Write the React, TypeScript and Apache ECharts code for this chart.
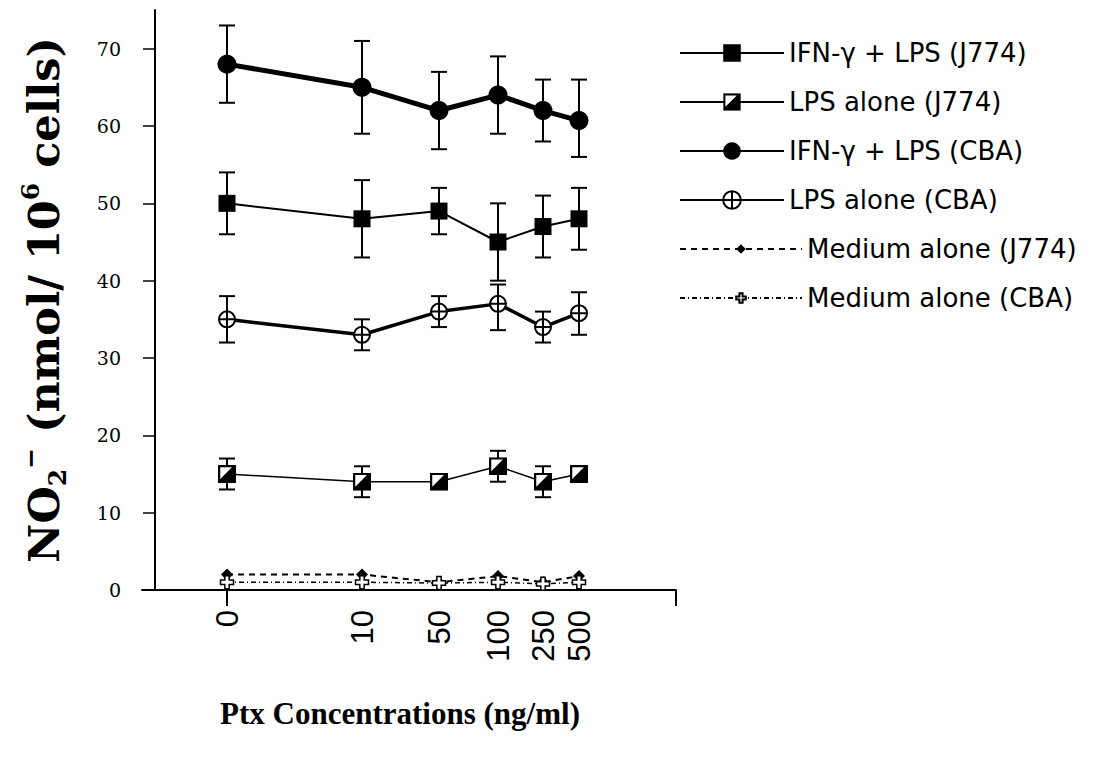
import React, { useEffect, useRef } from "react";
import * as echarts from "echarts";

// ---- data ----
const concentrations = ["0", "10", "50", "100", "250", "500"];
// placement of each concentration along the figure's non-linear x axis (axis units)
const xSlot = [72, 207, 284, 343, 388, 424];
const xMin = -13;
const xMax = 521;

const seriesNames = [
  "IFN-γ + LPS (J774)",
  "LPS alone (J774)",
  "IFN-γ + LPS (CBA)",
  "LPS alone (CBA)",
  "Medium alone (J774)",
  "Medium alone (CBA)",
];

const ifnJ774 = [50, 48, 49, 45, 47, 48];
const ifnJ774Hi = [54, 53, 52, 50, 51, 52];
const ifnJ774Lo = [46, 43, 46, 40, 43, 44];

const lpsJ774 = [15, 14, 14, 16, 14, 15];
const lpsJ774Hi: (number | null)[] = [17, 16, 14.8, 18, 16, null];
const lpsJ774Lo: (number | null)[] = [13, 12, 13.2, 14, 12, null];

const ifnCBA = [68, 65, 62, 64, 62, 60.7];
const ifnCBAHi = [73, 71, 67, 69, 66, 66];
const ifnCBALo = [63, 59, 57, 59, 58, 56];

const lpsCBA = [35, 33, 36, 37, 34, 35.8];
const lpsCBAHi = [38, 35, 38, 39.5, 36, 38.5];
const lpsCBALo = [32, 31, 34, 33.6, 32, 33];

const mediumJ774 = [2, 2, 1, 1.8, 1, 1.8];
const mediumCBA = [1, 1, 0.9, 1, 0.8, 1];

const yTicks = [0, 10, 20, 30, 40, 50, 60, 70];

// ---- symbols ----
const halfSquareSvg =
  "<svg xmlns='http://www.w3.org/2000/svg' width='40' height='40' viewBox='0 0 40 40'>" +
  "<rect width='40' height='40' fill='#000'/><polygon points='5,5 31,5 5,31' fill='#fff'/></svg>";
const halfSquare = "image://data:image/svg+xml;charset=utf-8," + encodeURIComponent(halfSquareSvg);
const circlePlus =
  "path://M0,10 A10,10 0 1 1 20,10 A10,10 0 1 1 0,10 Z M0,10 L20,10 M10,0 L10,20";
const hollowCross =
  "path://M4,0 L8,0 L8,4 L12,4 L12,8 L8,8 L8,12 L4,12 L4,8 L0,8 L0,4 L4,4 Z";

function pairs(vals: number[]) {
  return xSlot.map((x, i) => [x, vals[i]]);
}

function errorSeries(hi: (number | null)[], lo: (number | null)[], width: number) {
  const data = xSlot
    .map((x, i) => [x, lo[i], hi[i]])
    .filter((d) => d[1] != null && d[2] != null);
  return {
    type: "custom",
    silent: true,
    z: 1,
    data,
    encode: { x: 0, y: [1, 2] },
    renderItem: (params: any, api: any) => {
      const x = api.value(0);
      const lowPt = api.coord([x, api.value(1)]);
      const highPt = api.coord([x, api.value(2)]);
      const hw = 8;
      const style = { stroke: "#000", lineWidth: width, fill: "none" };
      return {
        type: "group",
        children: [
          { type: "line", shape: { x1: lowPt[0], y1: lowPt[1], x2: highPt[0], y2: highPt[1] }, style },
          { type: "line", shape: { x1: highPt[0] - hw, y1: highPt[1], x2: highPt[0] + hw, y2: highPt[1] }, style },
          { type: "line", shape: { x1: lowPt[0] - hw, y1: lowPt[1], x2: lowPt[0] + hw, y2: lowPt[1] }, style },
        ],
      };
    },
  };
}

function lineSeries(
  name: string,
  vals: number[],
  symbol: string,
  symbolSize: number | number[],
  lineWidth: number,
  itemStyle: any,
  lineType: any = "solid"
) {
  return {
    type: "line",
    name,
    data: pairs(vals),
    symbol,
    symbolSize,
    symbolKeepAspect: true,
    z: 2,
    lineStyle: { color: "#000", width: lineWidth, type: lineType },
    itemStyle,
    emphasis: { disabled: true },
  };
}

export default function App() {
  const ref = useRef<HTMLDivElement>(null);

  useEffect(() => {
    if (!ref.current) return;
    const chart = echarts.init(ref.current, null, { renderer: "svg" });
    const legendText = { fontFamily: "DejaVu Sans", fontSize: 26, color: "#000", lineHeight: 30 };
    const option: any = {
      animation: false,
      backgroundColor: "#fff",
      grid: { left: 142, right: 426, top: 10, bottom: 172, containLabel: false, outerBoundsMode: "none" },
      xAxis: {
        type: "value",
        min: xMin,
        max: xMax,
        splitLine: { show: false },
        axisLine: { lineStyle: { color: "#000", width: 2 } },
        axisTick: {
          show: true,
          customValues: [xSlot[0], xMax],
          length: 16,
          lineStyle: { color: "#000", width: 2 },
        },
        axisLabel: {
          customValues: xSlot,
          rotate: 90,
          margin: 20,
          padding: [14, 0, 0, 0],
          fontFamily: "Liberation Sans",
          fontSize: 31,
          color: "#000",
          formatter: (v: number) => {
            const i = xSlot.indexOf(v);
            return i >= 0 ? concentrations[i] : "";
          },
        },
        name: "Ptx Concentrations (ng/ml)",
        nameLocation: "middle",
        nameGap: 108,
        nameTextStyle: {
          fontFamily: "Liberation Serif",
          fontWeight: "bold",
          fontSize: 31,
          color: "#000",
          padding: [0, 18, 0, 0],
        },
      },
      yAxis: {
        type: "value",
        min: 0,
        max: 75,
        interval: 10,
        splitLine: { show: false },
        axisLine: { onZero: true, lineStyle: { color: "#000", width: 2 } },
        axisTick: { customValues: yTicks, length: 12, lineStyle: { color: "#000", width: 1.5 } },
        axisLabel: {
          customValues: yTicks,
          margin: 21,
          fontFamily: "DejaVu Serif",
          fontSize: 19,
          color: "#000",
        },
        name: "{b|NO}{sub|2}{sup|−}{b| (nmol/ 10}{sup|6}{b| cells)}",
        nameLocation: "middle",
        nameRotate: 90,
        nameGap: 72,
        nameTextStyle: {
          rich: {
            b: { fontFamily: "DejaVu Serif", fontWeight: "bold", fontSize: 43, lineHeight: 52, color: "#000" },
            sub: {
              fontFamily: "DejaVu Serif",
              fontWeight: "bold",
              fontSize: 25,
              lineHeight: 24,
              verticalAlign: "bottom",
              color: "#000",
            },
            sup: {
              fontFamily: "DejaVu Serif",
              fontWeight: "bold",
              fontSize: 25,
              lineHeight: 24,
              verticalAlign: "top",
              color: "#000",
            },
          },
        },
      },
      legend: [
        {
          orient: "vertical",
          left: 674,
          top: 33,
          itemWidth: 104,
          itemHeight: 22,
          itemGap: 19,
          selectedMode: false,
          data: seriesNames.slice(0, 4),
          textStyle: legendText,
        },
        {
          orient: "vertical",
          left: 674,
          top: 229,
          itemWidth: 122,
          itemHeight: 12,
          itemGap: 19,
          selectedMode: false,
          data: seriesNames.slice(4),
          textStyle: legendText,
        },
      ],
      series: [
        errorSeries(ifnCBAHi, ifnCBALo, 2),
        errorSeries(ifnJ774Hi, ifnJ774Lo, 2),
        errorSeries(lpsCBAHi, lpsCBALo, 2),
        errorSeries(lpsJ774Hi, lpsJ774Lo, 2),
        lineSeries(seriesNames[0], ifnJ774, "rect", 17, 2, { color: "#000" }),
        lineSeries(seriesNames[1], lpsJ774, halfSquare, 18, 1.5, { color: "#000" }),
        lineSeries(seriesNames[2], ifnCBA, "circle", 19, 5, { color: "#000" }),
        lineSeries(seriesNames[3], lpsCBA, circlePlus, 16, 3.5, {
          color: "#fff",
          borderColor: "#000",
          borderWidth: 2,
        }),
        lineSeries(seriesNames[4], mediumJ774, "diamond", 12, 2, { color: "#000" }, [6, 5]),
        lineSeries(
          seriesNames[5],
          mediumCBA,
          hollowCross,
          13,
          1.5,
          { color: "#fff", borderColor: "#000", borderWidth: 1.5 },
          [5, 3, 1, 3]
        ),
      ],
    };
    chart.setOption(option);
    return () => chart.dispose();
  }, []);

  return (
    <div
      ref={ref}
      style={{ position: "fixed", left: 0, top: 0, width: 1102, height: 762, background: "#fff" }}
    />
  );
}
